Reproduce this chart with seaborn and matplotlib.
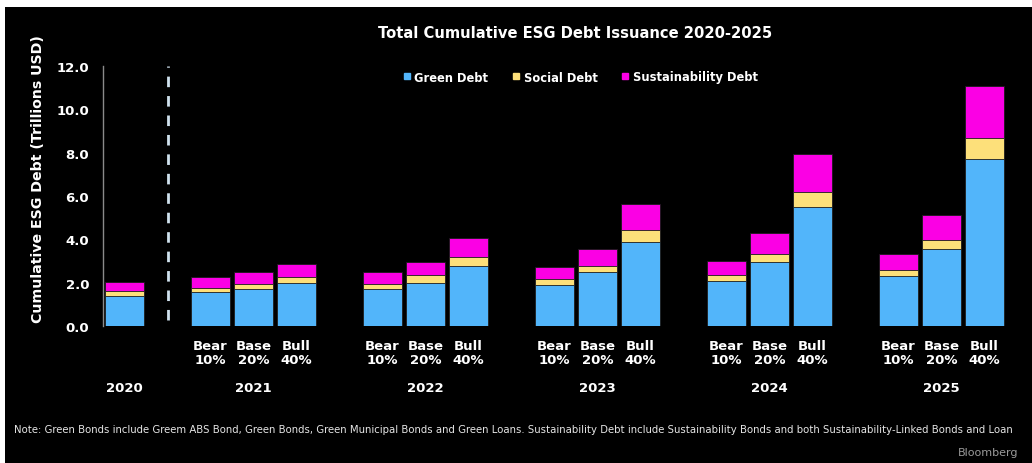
import numpy as np
import pandas as pd
import matplotlib
matplotlib.use("Agg")
import matplotlib.pyplot as plt
from matplotlib.lines import Line2D
from matplotlib.patches import Rectangle
import seaborn as sns

# ---------------- data ----------------
years = ["2020", "2021", "2022", "2023", "2024", "2025"]
scenarios = ["Bear\n10%", "Base\n20%", "Bull\n40%"]
green = [1.40,
         1.58, 1.70, 1.97,
         1.70, 2.00, 2.78,
         1.89, 2.47, 3.90,
         2.06, 2.96, 5.47,
         2.29, 3.55, 7.70]
social = [0.21,
          0.17, 0.24, 0.27,
          0.24, 0.34, 0.39,
          0.28, 0.31, 0.54,
          0.29, 0.36, 0.72,
          0.30, 0.43, 1.00]
sustain = [0.40,
           0.50, 0.53, 0.63,
           0.53, 0.61, 0.89,
           0.56, 0.77, 1.21,
           0.66, 0.95, 1.74,
           0.73, 1.14, 2.37]
series_names = ["Green Debt", "Social Debt", "Sustainability Debt"]
title = "Total Cumulative ESG Debt Issuance 2020-2025"
ylabel = "Cumulative ESG Debt (Trillions USD)"
note = ("Note: Green Bonds include Greem ABS Bond, Green Bonds, Green Municipal Bonds and Green Loans. "
        "Sustainability Debt include Sustainability Bonds and both Sustainability-Linked Bonds and Loan")

# ---------------- layout ----------------
positions = [0] + [2 + 4 * i + j for i in range(len(years) - 1) for j in range(3)]
labels = [""] + scenarios * (len(years) - 1)
df = pd.DataFrame({
    "pos": positions,
    "green": green,
    "gs": np.array(green) + np.array(social),
    "total": np.array(green) + np.array(social) + np.array(sustain),
})

C_GREEN = "#52b5fa"
C_SOCIAL = "#fde07a"
C_SUST = "#fb00e4"
colors = [C_GREEN, C_SOCIAL, C_SUST]

sns.set_theme(style="dark")
plt.rcParams["font.family"] = ["DejaVu Sans"]

W, H = 1032, 464
fig = plt.figure(figsize=(W / 100, H / 100), dpi=100)
fig.patch.set_facecolor("white")
fig.add_artist(Rectangle((5 / W, 0), 1 - 5 / W, 1 - 8 / H, transform=fig.transFigure,
                         facecolor="black", edgecolor="none", zorder=-10))

ax_l, ax_r, ax_t, ax_b = 103, 1020, 67, 327
ax = fig.add_axes([ax_l / W, 1 - ax_b / H, (ax_r - ax_l) / W, (ax_b - ax_t) / H])
ax.set_facecolor("black")

for col, c in zip(["total", "gs", "green"], [C_SUST, C_SOCIAL, C_GREEN]):
    sns.barplot(data=df, x="pos", y=col, native_scale=True, color=c, saturation=1,
                width=0.93, errorbar=None, ax=ax, linewidth=0.6, edgecolor="#1a1a1a")

ax.set_xlim(-0.5, -0.5 + (ax_r - ax_l) / 43)
ax.set_ylim(0, 12)

# divider
ax.axvline(1, ymin=0.025, ymax=1.0, color="#d0e2ee", lw=2.0, dashes=(3.8, 3.2))

# spines
for s in ["top", "right", "bottom"]:
    ax.spines[s].set_visible(False)
ax.spines["left"].set_color("#8a8a8a")
ax.spines["left"].set_linewidth(1.0)
ax.grid(False)

yt = np.arange(0, 13, 2)
ax.set_yticks(yt)
ax.set_yticklabels([f"{v:.1f}" for v in yt], color="white", fontsize=9.5, fontweight="bold")
ax.set_xticks(positions[1:])
ax.set_xticklabels(labels[1:], color="white", fontsize=9.5, fontweight="bold", linespacing=1.15)
ax.tick_params(axis="y", length=0, pad=10)
ax.tick_params(axis="x", length=0, pad=9)
ax.set_xlabel("")
ax.set_ylabel(ylabel, color="white", fontsize=10.2, fontweight="bold")
ax.yaxis.set_label_coords((45 - ax_l) / (ax_r - ax_l), (ax_b - 179) / (ax_b - ax_t))

# year labels
trans = ax.get_xaxis_transform()
ax.text(positions[0], (ax_b - 389) / (ax_b - ax_t), years[0], transform=trans,
        ha="center", va="center", color="white", fontsize=9.5, fontweight="bold")
for i, yr in enumerate(years[1:]):
    center = np.mean(positions[1 + 3 * i:4 + 3 * i])
    ax.text(center, (ax_b - 389) / (ax_b - ax_t), yr, transform=trans,
            ha="center", va="center", color="white", fontsize=9.5, fontweight="bold")

# legend
handles = [Line2D([], [], marker="s", linestyle="none", markersize=5, color=c) for c in colors]
leg = fig.legend(handles, series_names, loc="center", bbox_to_anchor=(580 / W, 1 - 78 / H),
                 ncol=3, frameon=False, handletextpad=0.25, columnspacing=2.0,
                 prop={"size": 8.3, "weight": "bold"}, handlelength=0.8)
for t in leg.get_texts():
    t.set_color("white")

fig.text(575 / W, 1 - 33 / H, title, ha="center", va="center", color="white",
         fontsize=10.6, fontweight="bold")
fig.text(14 / W, 1 - 430 / H, note, ha="left", va="center", color="#e6e6e6", fontsize=7.25)
fig.text(1018 / W, 1 - 453 / H, "Bloomberg", ha="right", va="center", color="#9a9a9a", fontsize=8)

fig.savefig("out.png", dpi=100, facecolor=fig.get_facecolor())
